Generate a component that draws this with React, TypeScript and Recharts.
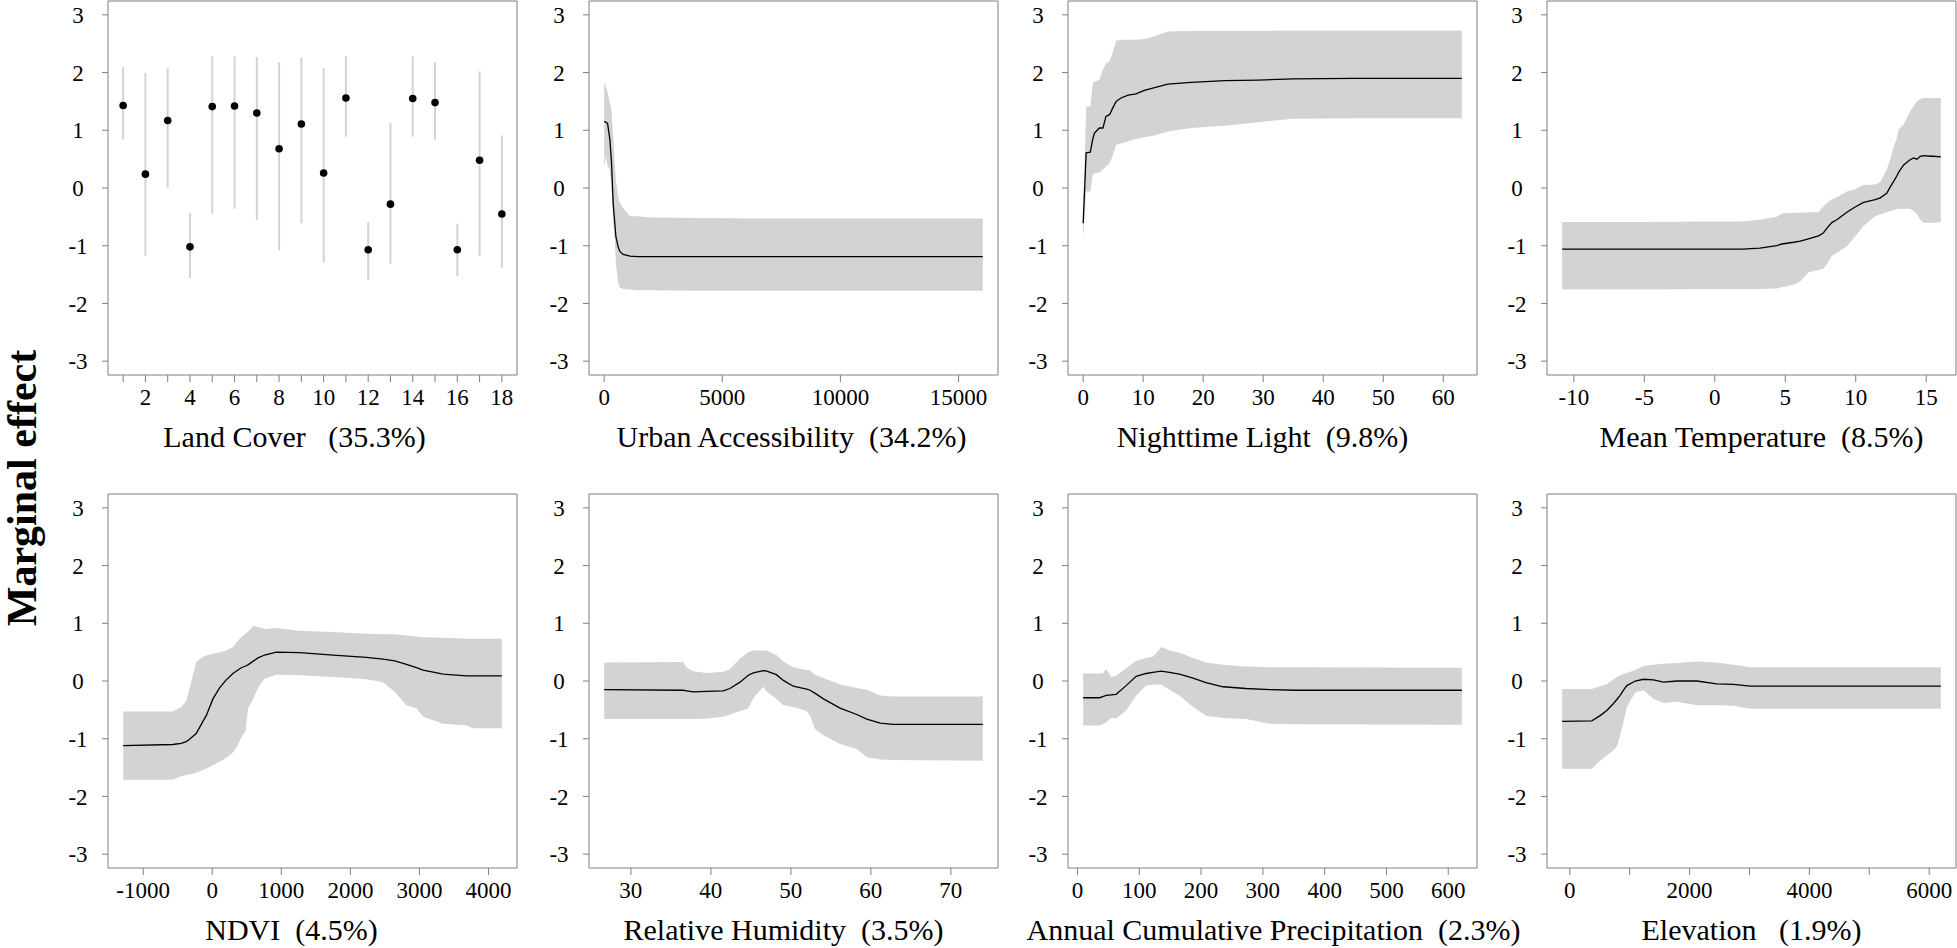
import React from 'react';
import { ComposedChart, Area, Line, Scatter, ErrorBar, XAxis, YAxis, ReferenceArea } from 'recharts';

const FONT = '"Liberation Serif", "Times New Roman", serif';
const BAND = '#d3d3d3';
const FRAME = '#7f7f7f';

// y axis shared by every panel
const effectTicks = [-3, -2, -1, 0, 1, 2, 3];

// Land Cover (classes 1..18): point estimate with interval
const landCoverClass = [1, 2, 3, 4, 5, 6, 7, 8, 9, 10, 11, 12, 13, 14, 15, 16, 17, 18];
const landCoverMean = [1.43, 0.24, 1.17, -1.02, 1.41, 1.42, 1.3, 0.68, 1.11, 0.26, 1.56, -1.07, -0.28, 1.55, 1.48, -1.07, 0.48, -0.45];
const landCoverLow = [0.84, -1.17, 0.01, -1.56, -0.45, -0.36, -0.56, -1.08, -0.61, -1.29, 0.89, -1.59, -1.31, 0.89, 0.84, -1.53, -1.17, -1.38];
const landCoverHigh = [2.09, 1.99, 2.07, -0.43, 2.28, 2.28, 2.27, 2.18, 2.26, 2.08, 2.28, -0.59, 1.13, 2.28, 2.18, -0.62, 2.02, 0.91];
const landCoverTicks = landCoverClass;

// Urban Accessibility
const urbanX = [0, 72, 144, 240, 311, 381, 453, 496, 593, 665, 805, 1017, 1089, 1441, 2000, 4000, 8000, 12000, 16030];
const urbanMean = [1.15, 1.14, 1.12, 0.85, 0.45, -0.26, -0.62, -0.84, -1.02, -1.1, -1.15, -1.17, -1.18, -1.19, -1.19, -1.19, -1.19, -1.19, -1.19];
const urbanLow = [0.37, 0.55, 0.4, 0.31, 0.0, -0.55, -0.95, -1.3, -1.64, -1.73, -1.75, -1.76, -1.76, -1.77, -1.77, -1.78, -1.78, -1.78, -1.78];
const urbanHigh = [1.82, 1.76, 1.67, 1.48, 1.35, 0.89, 0.37, 0.15, -0.15, -0.25, -0.35, -0.45, -0.49, -0.49, -0.51, -0.52, -0.53, -0.53, -0.53];
const urbanTicks = [0, 5000, 10000, 15000];

// Nighttime Light
const lightX = [0, 0.5, 1.2, 1.6, 1.9, 2.7, 3.3, 3.8, 4.4, 4.9, 5.5, 6.3, 7.5, 8.8, 10.2, 11.9, 14.1, 18, 23.6, 29.1, 35, 45, 55, 63.1];
const lightMean = [-0.61, 0.61, 0.62, 0.85, 0.95, 1.04, 1.04, 1.24, 1.27, 1.38, 1.5, 1.56, 1.61, 1.63, 1.69, 1.74, 1.8, 1.83, 1.86, 1.87, 1.89, 1.9, 1.9, 1.9];
const lightLow = [-0.9, -0.06, -0.06, 0.23, 0.25, 0.27, 0.32, 0.37, 0.43, 0.55, 0.75, 0.77, 0.81, 0.85, 0.88, 0.91, 0.98, 1.04, 1.08, 1.14, 1.2, 1.21, 1.21, 1.21];
const lightHigh = [-0.5, 1.41, 1.41, 1.82, 1.84, 1.87, 2.05, 2.16, 2.19, 2.34, 2.55, 2.57, 2.57, 2.57, 2.58, 2.63, 2.71, 2.72, 2.72, 2.72, 2.73, 2.73, 2.73, 2.73];
const lightTicks = [0, 10, 20, 30, 40, 50, 60];

// Mean Temperature
const tempX = [-10.83, -5, 0, 2.0, 3.2, 4.4, 4.76, 5.6, 6.06, 6.65, 7.36, 7.7, 7.95, 8.3, 8.66, 9.37, 9.96, 10.55, 11.38, 11.74, 12.2, 12.45, 12.7, 12.9, 13.04, 13.4, 13.86, 14.1, 14.34, 14.58, 14.8, 15.3, 15.52, 16.04];
const tempMean = [-1.06, -1.06, -1.06, -1.06, -1.04, -1.0, -0.97, -0.94, -0.92, -0.88, -0.83, -0.78, -0.7, -0.6, -0.55, -0.42, -0.33, -0.25, -0.2, -0.17, -0.09, 0.02, 0.12, 0.2, 0.27, 0.4, 0.49, 0.52, 0.5, 0.55, 0.56, 0.55, 0.55, 0.54];
const tempLow = [-1.76, -1.76, -1.75, -1.75, -1.75, -1.74, -1.72, -1.67, -1.62, -1.46, -1.42, -1.4, -1.32, -1.18, -1.12, -1.01, -0.84, -0.66, -0.49, -0.46, -0.42, -0.4, -0.38, -0.37, -0.36, -0.36, -0.36, -0.4, -0.45, -0.55, -0.6, -0.6, -0.6, -0.59];
const tempHigh = [-0.59, -0.59, -0.58, -0.58, -0.55, -0.5, -0.44, -0.43, -0.43, -0.42, -0.42, -0.32, -0.26, -0.2, -0.16, -0.06, -0.02, 0.05, 0.06, 0.1, 0.32, 0.5, 0.72, 0.85, 1.01, 1.1, 1.33, 1.42, 1.5, 1.54, 1.56, 1.56, 1.56, 1.56];
const tempTicks = [-10, -5, 0, 5, 10, 15];

// NDVI
const ndviX = [-1290, -570, -449, -377, -329, -232, -135, -87, 10, 106, 203, 300, 372, 420, 483, 517, 589, 614, 662, 758, 928, 1266, 1749, 2232, 2473, 2643, 2812, 2957, 3053, 3343, 3681, 3778, 4193];
const ndviMean = [-1.12, -1.1, -1.08, -1.05, -1.01, -0.91, -0.7, -0.6, -0.31, -0.12, 0.02, 0.13, 0.19, 0.23, 0.26, 0.28, 0.34, 0.36, 0.4, 0.45, 0.5, 0.49, 0.45, 0.41, 0.38, 0.35, 0.29, 0.23, 0.19, 0.12, 0.09, 0.09, 0.09];
const ndviLow = [-1.71, -1.71, -1.65, -1.63, -1.62, -1.59, -1.54, -1.52, -1.46, -1.4, -1.33, -1.24, -1.1, -0.98, -0.86, -0.48, -0.32, -0.25, -0.12, 0.04, 0.11, 0.1, 0.07, 0.03, -0.02, -0.19, -0.42, -0.47, -0.62, -0.74, -0.77, -0.82, -0.82];
const ndviHigh = [-0.53, -0.53, -0.45, -0.35, -0.13, 0.33, 0.42, 0.44, 0.47, 0.5, 0.53, 0.59, 0.7, 0.76, 0.82, 0.85, 0.95, 0.95, 0.94, 0.9, 0.92, 0.87, 0.85, 0.82, 0.81, 0.81, 0.79, 0.77, 0.76, 0.75, 0.73, 0.73, 0.73];
const ndviTicks = [-1000, 0, 1000, 2000, 3000, 4000];

// Relative Humidity
const humidX = [26.66, 36.55, 36.97, 37.8, 39.47, 41.55, 42.39, 43.64, 44.68, 45.3, 46.56, 46.98, 48.2, 49.06, 50.3, 51.98, 52.4, 53.0, 54.07, 56.15, 58.24, 59.5, 61.16, 62.8, 74.0];
const humidMean = [-0.15, -0.16, -0.17, -0.19, -0.18, -0.17, -0.13, -0.02, 0.1, 0.14, 0.18, 0.17, 0.11, 0.01, -0.09, -0.14, -0.16, -0.21, -0.31, -0.47, -0.58, -0.66, -0.73, -0.75, -0.75];
const humidLow = [-0.66, -0.66, -0.66, -0.66, -0.65, -0.62, -0.58, -0.52, -0.47, -0.3, -0.1, -0.18, -0.31, -0.42, -0.45, -0.52, -0.6, -0.83, -0.94, -1.09, -1.18, -1.32, -1.36, -1.37, -1.38];
const humidHigh = [0.32, 0.33, 0.23, 0.17, 0.14, 0.16, 0.21, 0.39, 0.5, 0.53, 0.53, 0.53, 0.45, 0.34, 0.24, 0.19, 0.18, 0.11, 0.05, -0.06, -0.12, -0.15, -0.25, -0.27, -0.27];
const humidTicks = [30, 40, 50, 60, 70];

// Annual Cumulative Precipitation
const precipX = [9.2, 35.6, 41, 46.4, 54.5, 62.6, 78.8, 95, 111, 122, 135.5, 149, 165, 187, 208, 235.5, 273, 311, 354, 622];
const precipMean = [-0.29, -0.29, -0.27, -0.25, -0.24, -0.23, -0.08, 0.08, 0.13, 0.15, 0.17, 0.15, 0.12, 0.05, -0.03, -0.1, -0.13, -0.15, -0.16, -0.16];
const precipLow = [-0.77, -0.77, -0.75, -0.72, -0.64, -0.65, -0.51, -0.25, -0.08, -0.06, -0.06, -0.15, -0.25, -0.45, -0.6, -0.64, -0.66, -0.74, -0.75, -0.76];
const precipHigh = [0.13, 0.13, 0.13, 0.21, 0.07, 0.09, 0.22, 0.35, 0.4, 0.42, 0.59, 0.53, 0.49, 0.4, 0.32, 0.28, 0.25, 0.24, 0.24, 0.23];
const precipTicks = [0, 100, 200, 300, 400, 500, 600];

// Elevation
const elevX = [-128, 367, 506, 618, 729, 785, 840, 896, 952, 1091, 1230, 1397, 1564, 1787, 2120, 2454, 2733, 3011, 6195];
const elevMean = [-0.7, -0.69, -0.6, -0.51, -0.39, -0.32, -0.25, -0.16, -0.08, 0.0, 0.03, 0.02, -0.02, 0.0, 0.0, -0.05, -0.06, -0.09, -0.09];
const elevLow = [-1.52, -1.52, -1.38, -1.29, -1.2, -1.14, -0.94, -0.71, -0.45, -0.2, -0.16, -0.31, -0.38, -0.36, -0.42, -0.42, -0.43, -0.48, -0.48];
const elevHigh = [-0.14, -0.14, -0.09, -0.05, 0.03, 0.07, 0.1, 0.12, 0.14, 0.19, 0.26, 0.28, 0.3, 0.31, 0.34, 0.32, 0.28, 0.24, 0.24];
const elevTicks = [0, 1000, 2000, 3000, 4000, 5000, 6000];

// layout of the 4x2 grid (plot frame positions)
const BOX_LEFT = [108, 589, 1068, 1547];
const BOX_TOP = [1, 494];
const BOX_W = 409;
const BOX_H = 374;
const AXIS_W = 80;
const AXIS_H = 90;
const Y_DOMAIN = [-3.24, 3.24];

type Row = { x: number; mid: number; band: [number, number]; err: [number, number] };

function rowsOf(xs: number[], mid: number[], lo: number[], hi: number[]): Row[] {
  return xs.map((x, i) => ({ x, mid: mid[i], band: [lo[i], hi[i]], err: [mid[i] - lo[i], hi[i] - mid[i]] }));
}

const tickStyle = { fontFamily: FONT, fontSize: 23 };

function YTick(props: any) {
  const { x, y, payload } = props;
  return (
    <text x={x - 20} y={y} dy="0.355em" textAnchor="middle" fill="#000" style={tickStyle}>
      {payload.value}
    </text>
  );
}

function XTick(props: any) {
  const { x, y, payload, every } = props;
  const v = payload.value;
  const show = !every || Math.round(v / every) * every === v;
  if (!show) return <g />;
  return (
    <text x={x} y={y} dy="0.71em" textAnchor="middle" fill="#000" style={tickStyle}>
      {String(v)}
    </text>
  );
}

function Dot(props: any) {
  return <circle cx={props.cx} cy={props.cy} r={3.8} fill="#000" />;
}

type PanelProps = {
  col: number;
  row: number;
  title: string;
  titleShift: number;
  rows: Row[];
  ticks: number[];
  labelEvery?: number;
  points?: boolean;
};

function Panel({ col, row, title, titleShift, rows, ticks, labelEvery, points }: PanelProps) {
  const left = BOX_LEFT[col];
  const top = BOX_TOP[row];
  const xs = rows.map((r) => r.x);
  const lo = Math.min(...xs);
  const hi = Math.max(...xs);
  const pad = (hi - lo) * 0.04;
  const domain: [number, number] = [lo - pad, hi + pad];

  return (
    <>
      <div style={{ position: 'absolute', left: left - AXIS_W, top: top - 1 }}>
        <ComposedChart width={AXIS_W + BOX_W + 4} height={1 + BOX_H + AXIS_H} data={rows} margin={{ top: 1, right: 4, bottom: 0, left: 0 }}>
          <XAxis
            type="number"
            dataKey="x"
            domain={domain}
            ticks={ticks}
            interval={0}
            allowDataOverflow
            height={AXIS_H}
            tickSize={7}
            tickMargin={7}
            axisLine={false}
            tickLine={{ stroke: FRAME }}
            tick={(p: any) => <XTick {...p} every={labelEvery} />}
          />
          <YAxis
            type="number"
            domain={Y_DOMAIN}
            ticks={effectTicks}
            interval={0}
            allowDataOverflow
            width={AXIS_W}
            tickSize={6}
            tickMargin={4}
            axisLine={false}
            tickLine={{ stroke: FRAME }}
            tick={(p: any) => <YTick {...p} />}
          />
          {!points && <Area type="linear" dataKey="band" stroke="none" fill={BAND} fillOpacity={1} isAnimationActive={false} />}
          {!points && <Line type="linear" dataKey="mid" stroke="#000" strokeWidth={1.3} dot={false} isAnimationActive={false} />}
          {points && (
            <Scatter dataKey="mid" shape={<Dot />} isAnimationActive={false}>
              <ErrorBar dataKey="err" direction="y" width={0} stroke={BAND} strokeWidth={2} isAnimationActive={false} />
            </Scatter>
          )}
          <ReferenceArea x1={domain[0]} x2={domain[1]} y1={Y_DOMAIN[0]} y2={Y_DOMAIN[1]} fill="none" stroke={FRAME} strokeWidth={1} ifOverflow="visible" />
        </ComposedChart>
      </div>
      <div
        style={{
          position: 'absolute',
          left: left + BOX_W / 2 + titleShift - 300,
          top: top + BOX_H + 47,
          width: 600,
          textAlign: 'center',
          fontFamily: FONT,
          fontSize: 30,
          lineHeight: '30px',
          color: '#000',
          whiteSpace: 'pre',
        }}
      >
        {title}
      </div>
    </>
  );
}

export default function App() {
  return (
    <div style={{ position: 'absolute', left: 0, top: 0, width: 1957, height: 948, background: '#fff', overflow: 'hidden' }}>
      <Panel col={0} row={0} title="Land Cover   (35.3%)" titleShift={-18} rows={rowsOf(landCoverClass, landCoverMean, landCoverLow, landCoverHigh)} ticks={landCoverTicks} labelEvery={2} points />
      <Panel col={1} row={0} title="Urban Accessibility  (34.2%)" titleShift={-2} rows={rowsOf(urbanX, urbanMean, urbanLow, urbanHigh)} ticks={urbanTicks} />
      <Panel col={2} row={0} title="Nighttime Light  (9.8%)" titleShift={-10} rows={rowsOf(lightX, lightMean, lightLow, lightHigh)} ticks={lightTicks} />
      <Panel col={3} row={0} title="Mean Temperature  (8.5%)" titleShift={10} rows={rowsOf(tempX, tempMean, tempLow, tempHigh)} ticks={tempTicks} />
      <Panel col={0} row={1} title="NDVI  (4.5%)" titleShift={-21} rows={rowsOf(ndviX, ndviMean, ndviLow, ndviHigh)} ticks={ndviTicks} />
      <Panel col={1} row={1} title="Relative Humidity  (3.5%)" titleShift={-10} rows={rowsOf(humidX, humidMean, humidLow, humidHigh)} ticks={humidTicks} />
      <Panel col={2} row={1} title="Annual Cumulative Precipitation  (2.3%)" titleShift={1} rows={rowsOf(precipX, precipMean, precipLow, precipHigh)} ticks={precipTicks} />
      <Panel col={3} row={1} title="Elevation   (1.9%)" titleShift={0} rows={rowsOf(elevX, elevMean, elevLow, elevHigh)} ticks={elevTicks} labelEvery={2000} />
      <svg width={1957} height={948} style={{ position: 'absolute', left: 0, top: 0, pointerEvents: 'none' }}>
        <text transform="translate(36,488) rotate(-90)" textAnchor="middle" fontFamily={FONT} fontWeight="bold" fontSize={42} fill="#000">
          Marginal effect
        </text>
      </svg>
    </div>
  );
}
